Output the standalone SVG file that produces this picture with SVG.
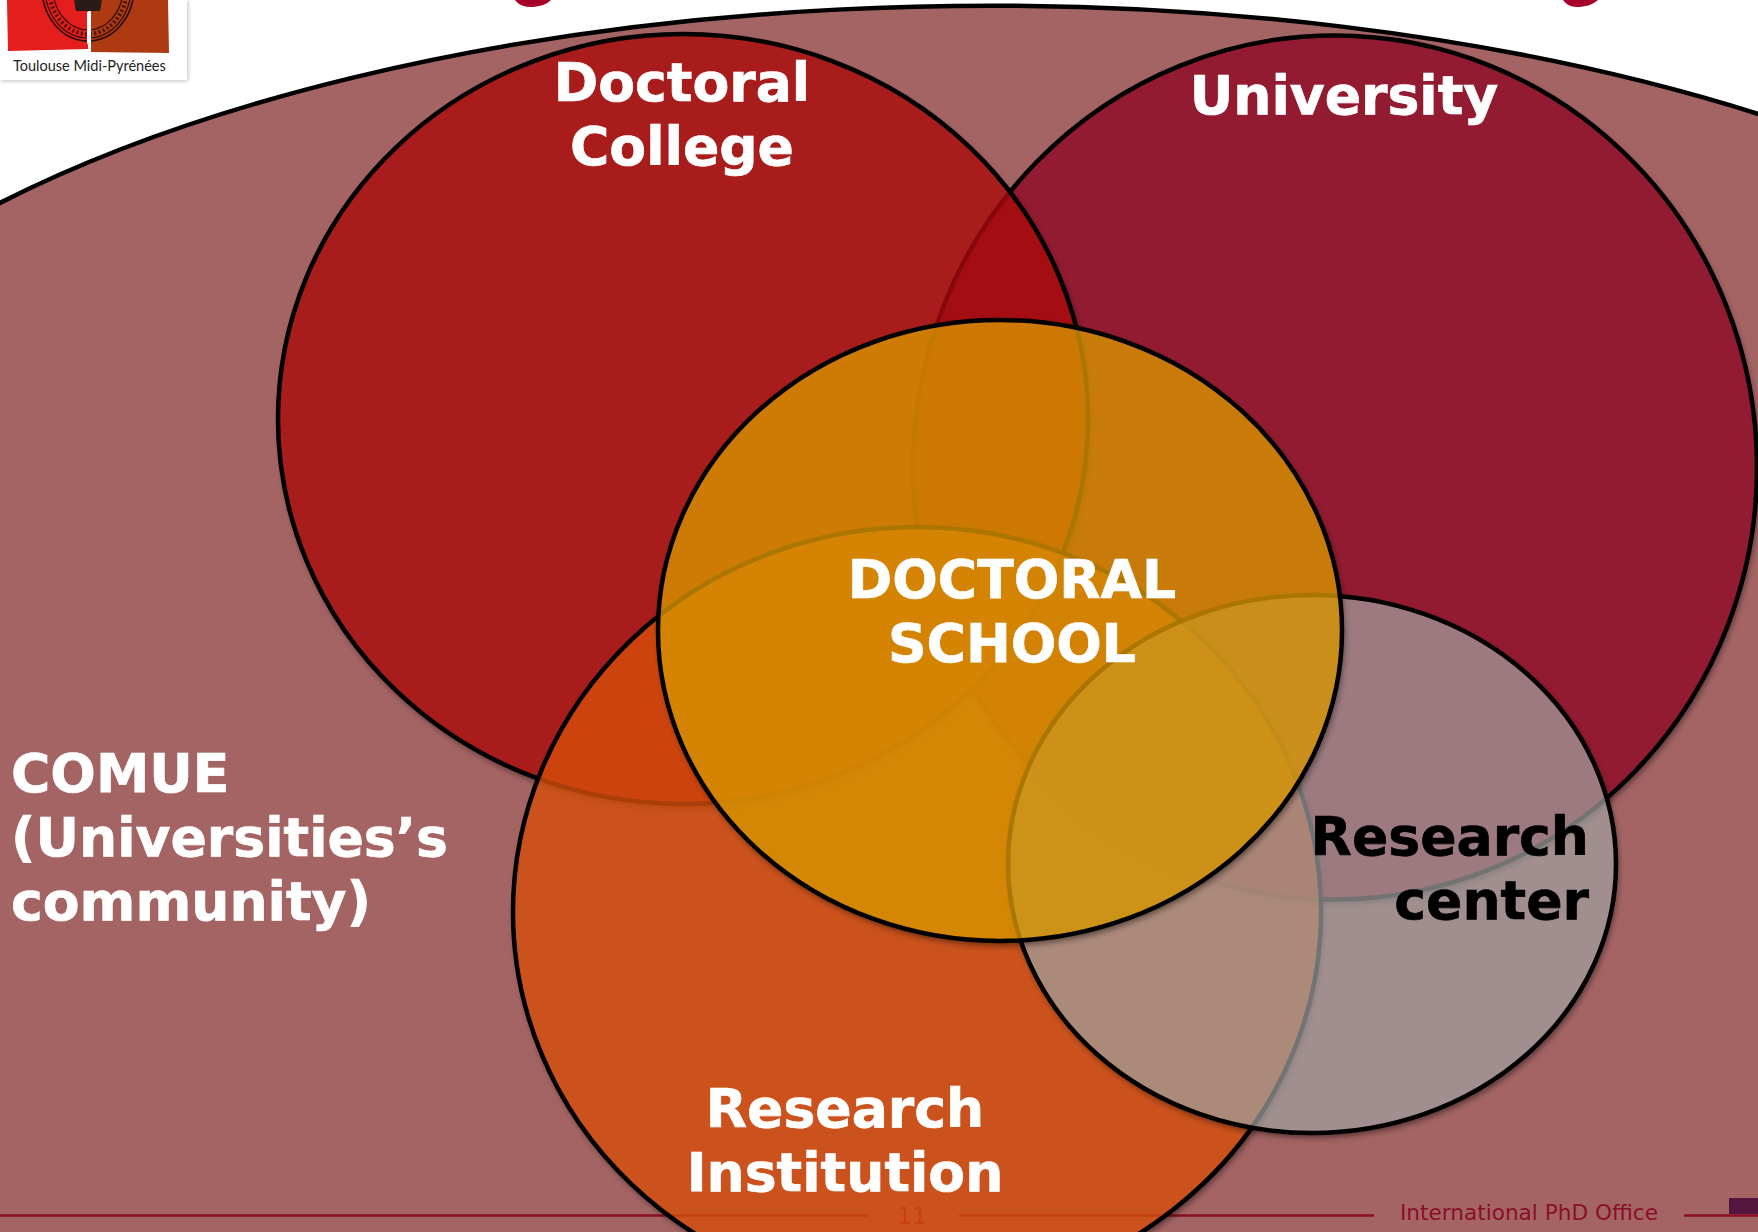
<svg xmlns="http://www.w3.org/2000/svg" width="1758" height="1232" viewBox="0 0 1758 1232">
<style>
.s{stroke:#000;stroke-width:4.5;fill-opacity:.8}
.sh{fill:#000;filter:url(#shadow)}
text{font-family:"DejaVu Sans","Liberation Sans",sans-serif;font-weight:700;font-size:53.6px;fill:#fff;stroke:#fff;stroke-width:.7}
.m{text-anchor:middle}
.e{text-anchor:end;fill:#000;stroke:#000}
text.f{font-weight:400;fill:#8a0f26;stroke:none;font-size:21.6px}
.fl{stroke:#8a0f26;stroke-width:2.4;fill:none}
</style>
<defs>
<filter id="shadow" x="-5%" y="-5%" width="110%" height="110%" color-interpolation-filters="sRGB">
<feOffset in="SourceAlpha" dx="2" dy="4"/>
<feGaussianBlur stdDeviation="3.5" result="b"/>
<feComposite in="b" in2="SourceAlpha" operator="out" result="o"/>
<feComponentTransfer in="o"><feFuncA type="linear" slope=".55"/></feComponentTransfer>
</filter>
<filter id="soft" x="-10%" y="-10%" width="120%" height="120%"><feGaussianBlur stdDeviation="2"/></filter>
<clipPath id="logoClip"><rect x="0" y="0" width="187" height="80"/></clipPath>
</defs>
<rect width="1758" height="1232" fill="#fff"/>
<g id="title-fragments" fill="#a6002a">
<path d="M515 0H551C546 5 538 7 530 7C523 7 518 4 515 0Z"/>
<path d="M1563 0H1598C1592 5 1585 7 1577 7C1570 7 1566 4 1563 0Z"/>
</g>
<g id="logo">
<rect x="0" y="0" width="187" height="80" fill="#000" opacity=".25" filter="url(#soft)" transform="translate(1 1)"/>
<rect x="0" y="0" width="187" height="80" fill="#fff"/>
<path d="M7 0H88V49L8 51Z" fill="#e41e1c"/>
<path d="M91 0H168L169 53L91 52Z" fill="#ad3a10"/>
<g clip-path="url(#logoClip)" fill="none" stroke="#2a0a0a">
<ellipse cx="88" cy="-12" rx="46" ry="53" stroke-width="1.6"/>
<ellipse cx="88" cy="-12" rx="43" ry="50" stroke-width="1.2"/>
<ellipse cx="88" cy="-12" rx="35" ry="42" stroke-width="1.2"/>
<ellipse cx="88" cy="-12" rx="39" ry="46" stroke-width="4" stroke-dasharray="2 2.5" opacity=".8"/>
<path d="M74 0H102L100 11H76Z" fill="#2a1a18" stroke="none"/>
<rect x="87" y="12" width="4" height="32" fill="#fff" stroke="none"/>
</g>
<text x="13" y="71" style="font-family:Lato,'Noto Sans',sans-serif;font-weight:400;font-size:14.5px;fill:#222;stroke:none">Toulouse Midi-Pyrénées</text>
</g>
<g id="comue">
<path d="M-10 208A1300 560 0 0 1 1768 117V1240H-10Z" fill="#a56464" stroke="none"/>
<path d="M-10 208A1300 560 0 0 1 1768 117" fill="none" stroke="#000" stroke-width="4.5"/>
<text x="11" y="792">COMUE</text>
<text x="11" y="856">(Universities’s</text>
<text x="11" y="920">community)</text>
</g>
<g id="footer">
<path class="fl" d="M0 1215.5H869M959 1215.5H1374M1684 1215.5H1758"/>
<rect x="1729" y="1198" width="29" height="16" fill="#54163f"/>
<text class="f" x="1400" y="1220">International PhD Office</text>
<text class="f" x="912" y="1224" text-anchor="middle" style="font-size:23px">11</text>
</g>
<g id="university">
<ellipse class="sh" cx="1335" cy="467.5" rx="422" ry="432"/>
<ellipse class="s" cx="1335" cy="467.5" rx="422" ry="432" fill="#8d0924"/>
</g>
<g id="doctoral-college">
<ellipse class="sh" cx="683" cy="419" rx="405" ry="385"/>
<ellipse class="s" cx="683" cy="419" rx="405" ry="385" fill="#a90a0a"/>
</g>
<g id="research-institution">
<ellipse class="sh" cx="917" cy="912" rx="404" ry="385"/>
<ellipse class="s" cx="917" cy="912" rx="404" ry="385" fill="#d44d0a"/>
</g>
<g id="research-center">
<ellipse class="sh" cx="1312" cy="864" rx="304" ry="269"/>
<ellipse class="s" cx="1312" cy="864" rx="304" ry="269" fill="#a0a0a0" style="fill-opacity:.72"/>
</g>
<g id="doctoral-school">
<ellipse class="sh" cx="1000" cy="630.5" rx="342" ry="310.5"/>
<ellipse class="s" cx="1000" cy="630.5" rx="342" ry="310.5" fill="#d69300"/>
</g>
<g id="labels">
<text class="m" x="682" y="101">Doctoral</text>
<text class="m" x="682" y="165">College</text>
<text class="m" x="1344" y="114">University</text>
<text class="m" x="1012" y="598">DOCTORAL</text>
<text class="m" x="1012" y="662">SCHOOL</text>
<text class="e" x="1589" y="855">Research</text>
<text class="e" x="1589" y="919">center</text>
<text class="m" x="845" y="1127">Research</text>
<text class="m" x="845" y="1191">Institution</text>
</g>
</svg>
